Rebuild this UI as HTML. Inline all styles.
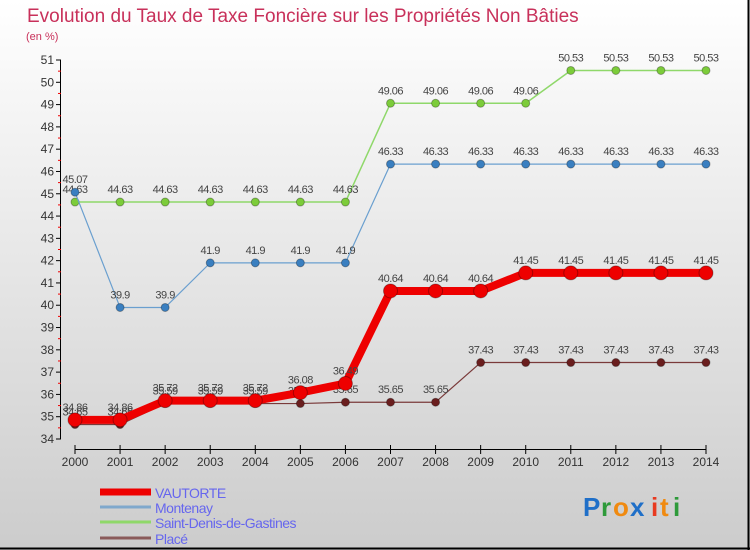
<!DOCTYPE html>
<html><head><meta charset="utf-8"><style>
body{margin:0;}
#wrap{position:relative;width:750px;height:550px;overflow:hidden;background:linear-gradient(#ffffff,#cccccc);font-family:"Liberation Sans",sans-serif;}
</style></head><body>
<div id="wrap">
<svg id="chart" width="750" height="550" xmlns="http://www.w3.org/2000/svg">
<text x="27" y="22" font-size="19" fill="#c8305a" font-family="Liberation Sans, sans-serif">Evolution du Taux de Taxe Foncière sur les Propriétés Non Bâties</text>
<text x="26" y="40" font-size="11" fill="#c8305a">(en %)</text>
<line x1="748.5" y1="0" x2="748.5" y2="550" stroke="#000" stroke-width="2"/>
<line x1="0" y1="548.5" x2="750" y2="548.5" stroke="#000" stroke-width="2"/>
<g id="axes"></g><g id="series"></g><g id="legend"></g>
<g font-family="Liberation Sans, sans-serif" font-size="26" font-weight="bold">
<text x="583" y="516" fill="#1f6fc8">P</text><text x="601" y="516" fill="#2e9a3a">r</text><text x="613" y="516" fill="#f08a10">o</text><text x="630" y="516" fill="#1f6fc8">x</text><text x="651" y="516" fill="#e83a20">i</text><text x="660" y="516" fill="#f08a10">t</text><text x="673" y="516" fill="#2e9a3a">i</text>
</g>
</svg>
</div>
<script>
const years=[2000,2001,2002,2003,2004,2005,2006,2007,2008,2009,2010,2011,2012,2013,2014];
const vautorte=[34.86,34.86,35.72,35.72,35.72,36.08,36.49,40.64,40.64,40.64,41.45,41.45,41.45,41.45,41.45];
const montenay=[45.07,39.9,39.9,41.9,41.9,41.9,41.9,46.33,46.33,46.33,46.33,46.33,46.33,46.33,46.33];
const saintDenis=[44.63,44.63,44.63,44.63,44.63,44.63,44.63,49.06,49.06,49.06,49.06,50.53,50.53,50.53,50.53];
const place=[34.65,34.65,35.59,35.59,35.59,35.59,35.65,35.65,35.65,37.43,37.43,37.43,37.43,37.43,37.43];
const yTicks=[34,35,36,37,38,39,40,41,42,43,44,45,46,47,48,49,50,51];
const seriesNames=["VAUTORTE","Montenay","Saint-Denis-de-Gastines","Placé"];

const NS="http://www.w3.org/2000/svg";
const x=i=>75+i*(706-75)/(years.length-1);
const y=v=>439-(v-34)*(439-60)/17;
function mk(tag,attrs,parent){const e=document.createElementNS(NS,tag);for(const k in attrs)e.setAttribute(k,attrs[k]);parent.appendChild(e);return e;}
const axes=document.getElementById('axes');
let a=mk('line',{x1:60.5,y1:60,x2:60.5,y2:439,stroke:'#000'},axes);


yTicks.forEach(t=>{
  const l=mk('line',{x1:56,y1:y(t),x2:61,y2:y(t),stroke:'#000'},axes);
  
  
  if(t<51){const m=mk('line',{x1:58,y1:y(t+0.5),x2:61,y2:y(t+0.5),stroke:'#e00'},axes);
  
  }
  const tx=mk('text',{x:54,y:y(t)+4,'font-size':12,fill:'#333','text-anchor':'end'},axes);tx.textContent=t;
  
  
});
a=mk('line',{x1:75,y1:449.5,x2:706,y2:449.5,stroke:'#000'},axes);


years.forEach((yr,i)=>{
  const l=mk('line',{x1:x(i),y1:445,x2:x(i),y2:454,stroke:'#000'},axes);
  
  
  const tx=mk('text',{x:x(i),y:466,'font-size':12,fill:'#333','text-anchor':'middle'},axes);tx.textContent=yr;
  
  
});
const sg=document.getElementById('series');
function draw(vals,color,w,r,dot,name){
  const g=mk('g',{},sg);
  
  
  const p=mk('polyline',{points:vals.map((v,i)=>x(i)+','+y(v)).join(' '),fill:'none',stroke:color,'stroke-width':w,'stroke-linejoin':'round'},g);
  
  
  vals.forEach((v,i)=>{
    const c=mk('circle',{cx:x(i),cy:y(v),r:r,fill:dot,stroke:'rgba(0,0,0,0.3)'},g);
    
    
    const t=mk('text',{x:x(i),y:y(v)-9,'font-size':11,fill:'#444','text-anchor':'middle','letter-spacing':'-0.5'},g);
    t.textContent=String(v);
    
    
  });
}
draw(place,'#7a3a3a',1.2,4,'#6a1e1e','place');
draw(saintDenis,'#8fd86a',1.5,4,'#7ccc3a','saint-denis');
draw(montenay,'#6a9fcf',1.2,4,'#3a7fc0','montenay');
draw(vautorte,'#ee0000',8,7,'#ee0000','vautorte');
const lg=document.getElementById('legend');
const lc=['#ee0000','#7fa8cc','#8fd86a','#8a5a5a'],lw=[7,3,3,3],ly=[492,507,522,538];
seriesNames.forEach((n,i)=>{
  const l=mk('line',{x1:100,y1:ly[i],x2:151,y2:ly[i],stroke:lc[i],'stroke-width':lw[i]},lg);
  
  
  const t=mk('text',{x:155,y:ly[i]+6,'font-size':14,fill:'#6666ee','letter-spacing':'-0.5'},lg);t.textContent=n;
  
  
});
</script>
</body></html>
